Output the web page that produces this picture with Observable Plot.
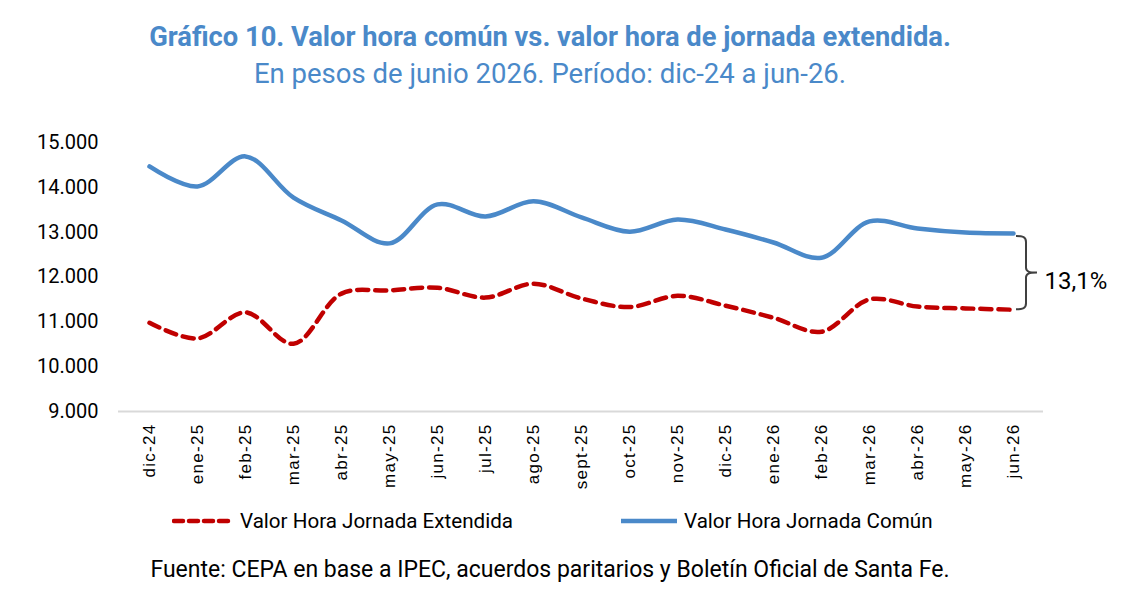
<!DOCTYPE html>
<html>
<head>
<meta charset="utf-8">
<script src="https://cdn.jsdelivr.net/npm/d3@7"></script>
<script src="https://cdn.jsdelivr.net/npm/@observablehq/plot@0.6"></script>
<style>
  html, body { margin: 0; padding: 0; background: #fff; }
  body { width: 1134px; height: 591px; overflow: hidden; font-family: Roboto, sans-serif; position: relative; }
  .title { position: absolute; left: 0; width: 1100px; top: 21px; line-height: 32px; text-align: center; color: #4A89C9; font-size: 27.3px; font-weight: 700; }
  .subtitle { position: absolute; left: 0; width: 1100px; top: 58px; line-height: 32px; text-align: center; color: #4A89C9; font-size: 27.5px; }
  #chart { position: absolute; left: 0; top: 110px; }
  #chart g[aria-label="x-axis tick label"] text { letter-spacing: 1.3px; font-family: 'Liberation Sans', Arial, sans-serif; }
  .legend { position: absolute; top: 508px; left: 0; width: 1134px; height: 26px; font-size: 20.6px; color: #000; }
  .legend .item { position: absolute; display: flex; align-items: center; }
  .legend svg { margin-right: 6px; }
  .footer { position: absolute; left: 0; width: 1100px; top: 556px; line-height: 28px; text-align: center; font-size: 23px; color: #000; }
</style>
</head>
<body>
<div class="title">Gráfico 10. Valor hora común vs. valor hora de jornada extendida.</div>
<div class="subtitle">En pesos de junio 2026. Período: dic-24 a jun-26.</div>
<div id="chart"></div>
<div class="legend">
  <div class="item" style="left:172px;top:0px;">
    <svg width="62" height="26"><line x1="2" y1="13" x2="60" y2="13" stroke="#C00000" stroke-width="4.5" stroke-dasharray="9,6" stroke-linecap="round"/></svg>
    <span>Valor Hora Jornada Extendida</span>
  </div>
  <div class="item" style="left:620px;top:0px;">
    <svg width="58" height="26"><line x1="1" y1="13" x2="57" y2="13" stroke="#4A89C9" stroke-width="4.5"/></svg>
    <span>Valor Hora Jornada Común</span>
  </div>
</div>
<div class="footer">Fuente: CEPA en base a IPEC, acuerdos paritarios y Boletín Oficial de Santa Fe.</div>
<script>
const months = ["dic-24","ene-25","feb-25","mar-25","abr-25","may-25","jun-25","jul-25","ago-25","sept-25","oct-25","nov-25","dic-25","ene-26","feb-26","mar-26","abr-26","may-26","jun-26"];
const comun = [14465,14020,14690,13770,13260,12750,13620,13350,13690,13330,13010,13280,13060,12770,12430,13240,13080,12990,12970];
const extendida = [10980,10630,11210,10510,11630,11700,11760,11540,11850,11520,11330,11580,11360,11090,10780,11500,11340,11300,11270];
const yTicks = [9000,10000,11000,12000,13000,14000,15000];

const blue = "#4A89C9";
const red = "#C00000";

const locale = d3.formatLocale({decimal: ",", thousands: ".", grouping: [3], currency: ["$", ""]});
const fmtThousands = locale.format(",");
const fmtPct = locale.format(".1%");

const rowsC = months.map((m, i) => ({month: m, value: comun[i]}));
const rowsE = months.map((m, i) => ({month: m, value: extendida[i]}));

const lastMonth = months[months.length - 1];
const lastC = comun[comun.length - 1];
const lastE = extendida[extendida.length - 1];
const gap = (lastC - lastE) / lastC;

function brace(index, scales) {
  const x0 = scales.x(lastMonth) + 3;
  const y1 = scales.y(lastC) + 3;
  const y2 = scales.y(lastE);
  const ym = (y1 + y2) / 2;
  const xv = x0 + 10;
  const d = `M${x0},${y1} C${x0+7},${y1} ${xv},${y1+1} ${xv},${y1+6} L${xv},${ym-5} C${xv},${ym-1} ${xv+3},${ym} ${xv+11},${ym}` +
            ` M${xv+11},${ym} C${xv+3},${ym} ${xv},${ym+1} ${xv},${ym+5} L${xv},${y2-6} C${xv},${y2-1} ${x0+7},${y2} ${x0},${y2}`;
  const p = document.createElementNS("http://www.w3.org/2000/svg", "path");
  p.setAttribute("d", d);
  p.setAttribute("fill", "none");
  p.setAttribute("stroke", "#404040");
  p.setAttribute("stroke-width", "2");
  return p;
}

const chart = Plot.plot({
  width: 1134,
  height: 400,
  marginLeft: 118,
  marginRight: 91,
  marginTop: 32,
  marginBottom: 99,
  style: {fontFamily: "Roboto, sans-serif", background: "#fff", overflow: "visible"},
  x: {type: "point", domain: months, padding: 0.53, label: null},
  y: {domain: [9000, 15000], label: null},
  marks: [
    Plot.ruleY([9000], {stroke: "#d9d9d9", strokeWidth: 2}),
    Plot.axisY({ticks: yTicks, tickSize: 0, tickPadding: 20, tickFormat: fmtThousands, fontSize: 20, fill: "#000", label: null}),
    Plot.axisX({tickSize: 0, tickPadding: 12, tickRotate: -90, fontSize: 17, label: null, fill: "#000"}),
    Plot.line(rowsE, {x: "month", y: "value", stroke: red, strokeWidth: 4.5, strokeDasharray: "11,7", curve: "catmull-rom"}),
    Plot.line(rowsC, {x: "month", y: "value", stroke: blue, strokeWidth: 4.5, curve: "catmull-rom"}),
    brace,
    Plot.text([{month: lastMonth, value: (lastC + lastE) / 2, label: fmtPct(gap)}], {x: "month", y: "value", text: "label", dx: 31, dy: 10, textAnchor: "start", fontSize: 24, fill: "#000", fontFamily: "Roboto, sans-serif"})
  ]
});
document.getElementById("chart").appendChild(chart);
</script>
</body>
</html>
